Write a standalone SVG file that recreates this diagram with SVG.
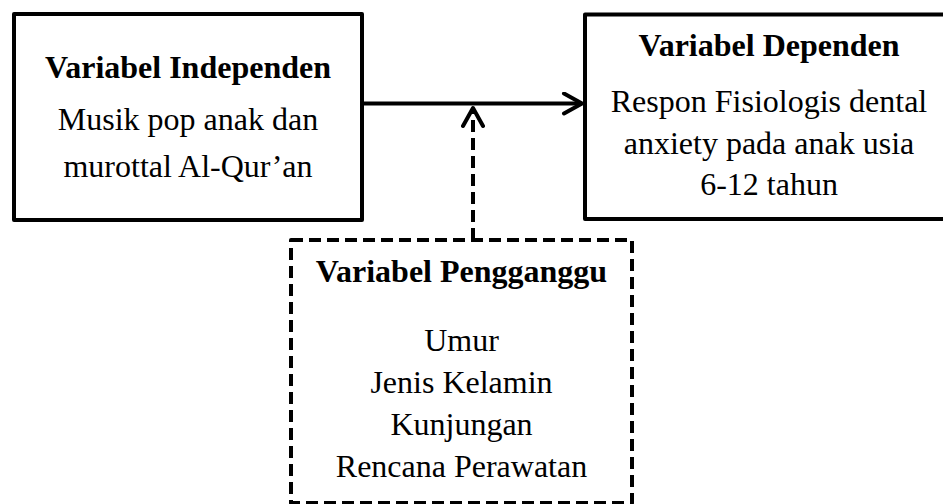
<svg xmlns="http://www.w3.org/2000/svg" width="943" height="504" viewBox="0 0 943 504">
<defs>
<style>
.box{fill:#fff;stroke:#000;stroke-width:4;stroke-linejoin:round}
.dash{stroke-dasharray:12 6}
.t{font-family:"Liberation Serif","Times New Roman",serif;font-size:32px;fill:#000;text-anchor:middle}
.b{font-weight:bold}
.ln{fill:none;stroke:#000;stroke-width:4}
</style>
<marker id="arr" viewBox="0 0 24 24" refX="21" refY="12" markerWidth="24" markerHeight="24" markerUnits="userSpaceOnUse" orient="auto">
<path d="M3 2 L21 12 L3 22" fill="none" stroke="#000" stroke-width="4" stroke-linecap="round" stroke-linejoin="round"/>
</marker>
</defs>
<rect width="943" height="504" fill="#fff"/>
<g id="connectors">
<line class="ln" x1="362" y1="103.5" x2="582" y2="103.5" marker-end="url(#arr)"/>
<line class="ln dash" x1="473" y1="240" x2="473" y2="108" marker-end="url(#arr)"/>
</g>
<g id="independen">
<rect class="box" x="14" y="14" width="348" height="206"/>
<text class="t b" x="188" y="78">Variabel Independen</text>
<text class="t" x="188" y="130">Musik pop anak dan</text>
<text class="t" x="188" y="177">murottal Al-Qur’an</text>
</g>
<g id="dependen">
<rect class="box" x="585" y="14.5" width="380" height="204.5"/>
<text class="t b" x="769" y="56">Variabel Dependen</text>
<text class="t" x="769" y="112">Respon Fisiologis dental</text>
<text class="t" x="769" y="154">anxiety pada anak usia</text>
<text class="t" x="769" y="195">6-12 tahun</text>
</g>
<g id="pengganggu">
<rect class="box dash" x="291" y="240" width="341" height="263"/>
<text class="t b" x="461.5" y="282">Variabel Pengganggu</text>
<text class="t" x="461.5" y="351">Umur</text>
<text class="t" x="461.5" y="393">Jenis Kelamin</text>
<text class="t" x="461.5" y="435">Kunjungan</text>
<text class="t" x="461.5" y="477">Rencana Perawatan</text>
</g>
</svg>
